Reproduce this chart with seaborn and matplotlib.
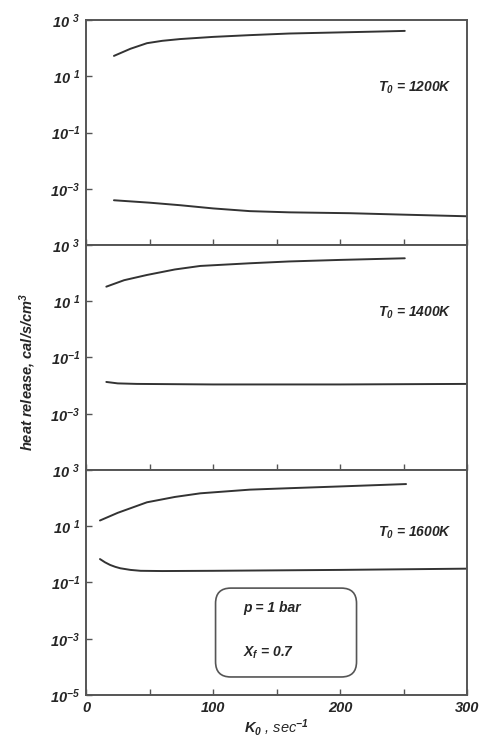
"""
Heat release vs strain rate K0 for three inlet temperatures (p = 1 bar, Xf = 0.7).
"""

import matplotlib
matplotlib.use("Agg")
import matplotlib.pyplot as plt
import pandas as pd
import seaborn as sns
from matplotlib.patches import FancyBboxPatch
from matplotlib.ticker import FixedLocator, FixedFormatter

# ---- data ----
temps = ["1200K", "1400K", "1600K"]

k_1200_hi = [22, 35, 48, 60, 74, 100, 129, 160, 200, 230, 251]
q_1200_hi = [53, 95, 150, 182, 210, 251, 290, 331, 363, 389, 410]
k_1200_lo = [22, 50, 74, 100, 129, 160, 208, 250, 300]
q_1200_lo = [3.9e-4, 3.2e-4, 2.6e-4, 2.0e-4, 1.6e-4, 1.45e-4, 1.35e-4, 1.2e-4, 1.05e-4]

k_1400_hi = [16, 30, 48, 70, 90, 129, 160, 200, 251]
q_1400_hi = [33, 56, 86, 135, 180, 224, 260, 295, 337]
k_1400_lo = [16, 25, 40, 100, 200, 300]
q_1400_lo = [0.0135, 0.012, 0.0115, 0.011, 0.011, 0.0115]

k_1600_hi = [11, 25, 48, 70, 90, 129, 160, 200, 252]
q_1600_hi = [16, 30, 71, 110, 148, 200, 225, 260, 316]
k_1600_lo = [11, 15, 19, 23, 27, 35, 43, 60, 100, 200, 300]
q_1600_lo = [0.68, 0.52, 0.42, 0.36, 0.32, 0.28, 0.26, 0.255, 0.26, 0.28, 0.31]

ytick_vals = [1e-5, 1e-3, 1e-1, 1e1, 1e3]
ytick_text = ["10$^{-5}$", "10$^{-3}$", "10$^{-1}$", "10 $^{1}$", "10 $^{3}$"]
xtick_vals = [0, 100, 200, 300]

curves = [
    (k_1200_hi, q_1200_hi, k_1200_lo, q_1200_lo),
    (k_1400_hi, q_1400_hi, k_1400_lo, q_1400_lo),
    (k_1600_hi, q_1600_hi, k_1600_lo, q_1600_lo),
]

sns.set_style("ticks")
plt.rcParams["font.family"] = ["Liberation Sans", "DejaVu Sans"]
plt.rcParams["font.weight"] = "bold"
plt.rcParams["font.style"] = "italic"
plt.rcParams["mathtext.fontset"] = "custom"
plt.rcParams["mathtext.rm"] = "Liberation Sans:bold:italic"
plt.rcParams["mathtext.it"] = "Liberation Sans:bold:italic"
plt.rcParams["mathtext.bf"] = "Liberation Sans:bold:italic"

line_col = "#333333"
spine_col = "#555555"

fig = plt.figure(figsize=(4.98, 7.44), dpi=100)
left, right, top, bottom = 0.1727, 0.9378, 0.9731, 0.0659
h = (top - bottom) / 3

for i, (temp, (kh, qh, kl, ql)) in enumerate(zip(temps, curves)):
    ax = fig.add_axes([left, top - (i + 1) * h, right - left, h])
    for kx, qy in ((kh, qh), (kl, ql)):
        df = pd.DataFrame({"K0": kx, "q": qy})
        sns.lineplot(data=df, x="K0", y="q", ax=ax, color=line_col, lw=1.4,
                     estimator=None, sort=False)
    ax.set_yscale("log")
    ax.set_xlim(0, 300)
    ax.set_ylim(1e-5, 1e3)
    ax.set_xlabel("")
    ax.set_ylabel("")

    shown = ytick_vals if i == 2 else ytick_vals[1:]
    labels = ytick_text if i == 2 else ytick_text[1:]
    ax.yaxis.set_major_locator(FixedLocator(shown))
    ax.yaxis.set_major_formatter(FixedFormatter(labels))
    ax.yaxis.set_minor_locator(FixedLocator([]))
    ax.xaxis.set_major_locator(FixedLocator(xtick_vals))
    ax.xaxis.set_minor_locator(FixedLocator([50, 150, 250]))
    ax.tick_params(axis="both", which="both", direction="in", length=4,
                   width=1, color=spine_col, labelsize=10.5, pad=4)
    if i < 2:
        ax.tick_params(axis="x", labelbottom=False)
    for sp in ax.spines.values():
        sp.set_color(spine_col)
        sp.set_linewidth(1.4)

    ax.text(0.96, [0.70, 0.70, 0.72][i], f"$T_0$ = {temp}", transform=ax.transAxes,
            ha="right", va="center", fontsize=10)

    if i == 2:
        box = FancyBboxPatch((0.34, 0.08), 0.37, 0.395,
                             boxstyle="round,pad=0,rounding_size=0.04",
                             transform=ax.transAxes, fill=False,
                             ec=spine_col, lw=1.2,
                             mutation_aspect=381 / 225)
        ax.add_patch(box)
        ax.text(124, 10 ** -1.9, "p = 1 bar", fontsize=10, va="center")
        ax.text(124, 10 ** -3.5, "$X_f$ = 0.7", fontsize=10, va="center")
        ax.set_xlabel("$K_0$ , sec$^{-1}$", fontsize=10.5, labelpad=2)

fig.text(0.055, 0.5, "heat release, cal/s/cm$^3$", rotation=90, ha="center",
         va="center", fontsize=10.5)

fig.savefig("out.png", dpi=100)
